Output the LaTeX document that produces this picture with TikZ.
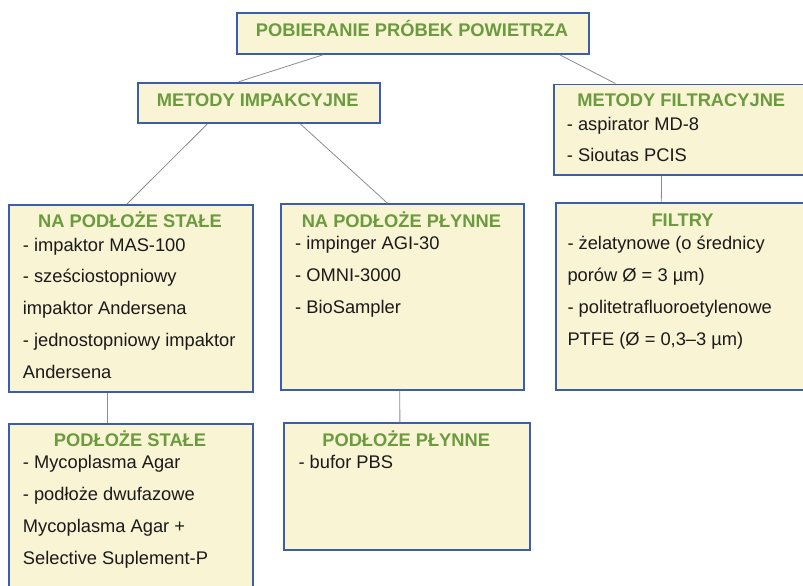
\documentclass[tikz,border=0pt]{standalone}
\usepackage{fontspec}
\setmainfont{Liberation Sans}
\usetikzlibrary{calc}

\definecolor{boxfill}{HTML}{F8F4D4}
\definecolor{boxdraw}{HTML}{3C5DA8}
\definecolor{headgreen}{HTML}{6B9A3F}
\definecolor{linkgray}{HTML}{8C8C8C}
\definecolor{bodyink}{HTML}{1A1A1A}

\tikzset{
  box/.style={draw=boxdraw, fill=boxfill, line width=1.8pt, inner sep=0pt, anchor=north west},
  head/.style={inner sep=0pt, anchor=base, text=headgreen, font=\fontsize{18.3}{22}\selectfont\bfseries},
  body/.style={inner sep=0pt, anchor=base west, text=bodyink, font=\fontsize{18.3}{22}\selectfont},
  link/.style={draw=linkgray, line width=0.8pt}
}

% box from its top-left corner (x1,y1) to its bottom-right corner (x2,y2)
\newcommand{\panel}[5]{%
  \node[box, minimum width={(#4-#2)*1pt}, minimum height={(#5-#3)*1pt}] (#1) at (#2,#3) {};}

\begin{document}
\begin{tikzpicture}[x=1pt, y=-1pt]
\useasboundingbox (0,0) rectangle (803,586);
\clip (0,0) rectangle (803,586);

% boxes
\panel{root}{236}{12}{588}{53}
\panel{imp}{136.7}{81.7}{378.7}{122.3}
\panel{filt}{552.7}{83.5}{810}{174.3}
\panel{solid}{8.3}{204}{251.7}{391}
\panel{liquid}{280}{203.3}{522.7}{389}
\panel{filters}{555}{201.7}{810}{389}
\panel{msolid}{8.3}{422.7}{251.7}{600}
\panel{mliquid}{283.3}{422.3}{529}{549}

% connectors
\draw[link] ($(root.south west)!0.246!(root.south east)$) -- ($(imp.north west)!0.419!(imp.north east)$);
\draw[link] ($(root.south west)!0.915!(root.south east)$) -- ($(filt.north west)!0.242!(filt.north east)$);
\draw[link] ($(imp.south west)!0.289!(imp.south east)$) -- ($(solid.north west)!0.484!(solid.north east)$);
\draw[link] ($(imp.south west)!0.672!(imp.south east)$) -- ($(liquid.north west)!0.44!(liquid.north east)$);
\draw[link] ($(filt.south west)!0.42!(filt.south east)$) -- ($(filters.north west)!0.414!(filters.north east)$);
\draw[link] ($(solid.south west)!0.404!(solid.south east)$) -- ($(msolid.north west)!0.404!(msolid.north east)$);
\draw[link] ($(liquid.south west)!0.49!(liquid.south east)$) -- ($(mliquid.north west)!0.471!(mliquid.north east)$);

% headings
\node[head] (h-root) at (412,36.5) {POBIERANIE PRÓBEK POWIETRZA};
\node[head] (h-imp) at (257.7,106) {METODY IMPAKCYJNE};
\node[head] (h-filt) at (681.3,106.7) {METODY FILTRACYJNE};
\node[head] (h-solid) at (130,227.7) {NA PODŁOŻE STAŁE};
\node[head] (h-liquid) at (401.4,227.7) {NA PODŁOŻE PŁYNNE};
\node[head] (h-filters) at (682.5,226) {FILTRY};
\node[head] (h-msolid) at (130,446.7) {PODŁOŻE STAŁE};
\node[head] (h-mliquid) at (406.2,446) {PODŁOŻE PŁYNNE};

% METODY FILTRACYJNE
\node[body] (f1) at (566.7,130.5) {- aspirator MD-8};
\node[body] (f2) at (566.7,161.5) {- Sioutas PCIS};

% NA PODŁOŻE STAŁE
\node[body] (s1) at (22.7,251) {- impaktor MAS-100};
\node[body] (s2) at (22.7,282.8) {- sześciostopniowy};
\node[body] (s3) at (22.7,314.6) {impaktor Andersena};
\node[body] (s4) at (22.7,346.4) {- jednostopniowy impaktor};
\node[body] (s5) at (22.7,378.2) {Andersena};

% NA PODŁOŻE PŁYNNE
\node[body] (l1) at (295,249.8) {- impinger AGI-30};
\node[body] (l2) at (295,281.7) {- OMNI-3000};
\node[body] (l3) at (295,313.5) {- BioSampler};

% FILTRY
\node[body] (r1) at (567.3,249.3) {- żelatynowe (o średnicy};
\node[body] (r2) at (567.3,281.7) {porów Ø = 3 µm)};
\node[body] (r3) at (567.3,313.8) {- politetrafluoroetylenowe};
\node[body] (r4) at (567.3,345.5) {PTFE (Ø = 0,3–3 µm)};

% PODŁOŻE STAŁE
\node[body] (m1) at (22.7,468.5) {- Mycoplasma Agar};
\node[body] (m2) at (22.7,500) {- podłoże dwufazowe};
\node[body] (m3) at (22.7,532) {Mycoplasma Agar +};
\node[body] (m4) at (22.7,564.5) {Selective Suplement-P};

% PODŁOŻE PŁYNNE
\node[body] (p1) at (298.3,468.5) {- bufor PBS};
\end{tikzpicture}
\end{document}
